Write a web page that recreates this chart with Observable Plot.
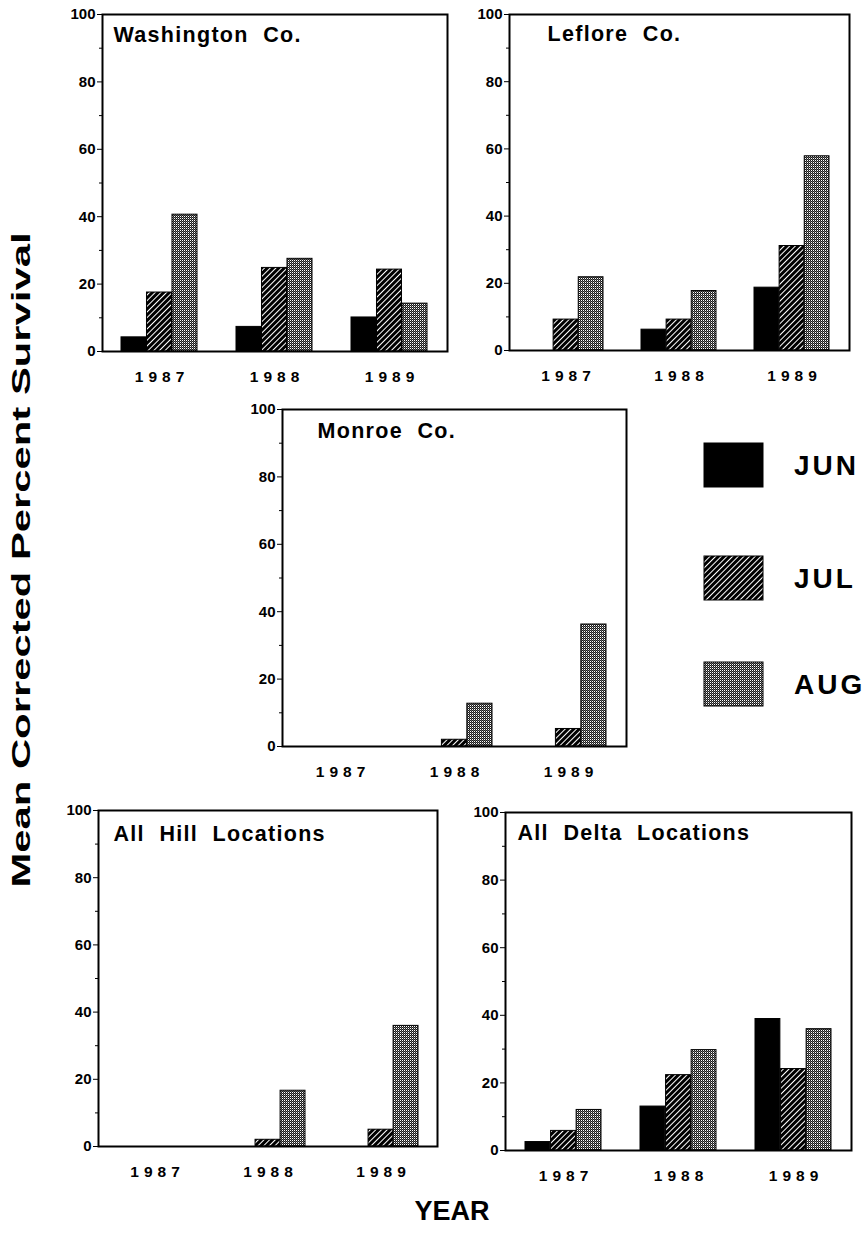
<!DOCTYPE html>
<html><head><meta charset="utf-8">
<script src="https://cdn.jsdelivr.net/npm/d3@7"></script>
<script src="https://cdn.jsdelivr.net/npm/@observablehq/plot@0.6"></script>
<style>
body{margin:0;background:#fff;}
#fig{position:relative;width:864px;height:1235px;font-family:"Liberation Sans",Arial,sans-serif;overflow:hidden;}
.panel{position:absolute;}
.panel g[aria-label="x-axis tick label"] text{letter-spacing:5px;}
.panel g[aria-label="text"] text{letter-spacing:1.3px;}
#overlay{position:absolute;left:0;top:0;pointer-events:none;}
</style></head><body>
<svg width="0" height="0" style="position:absolute">
<defs>
<pattern id="hatch" patternUnits="userSpaceOnUse" width="4" height="4" patternTransform="rotate(45)">
  <rect width="4" height="4" fill="#000"/>
  <rect x="0" y="0" width="1" height="4" fill="#fff"/>
</pattern>
<pattern id="dots" patternUnits="userSpaceOnUse" width="2" height="2" shape-rendering="crispEdges">
  <rect width="2" height="2" fill="#1a1a1a"/>
  <rect x="0" y="0" width="1" height="1" fill="#fff"/>
  <rect x="1" y="1" width="1" height="1" fill="#666"/>
</pattern>
</defs></svg>
<div id="fig"></div>
<script>
// ---- data ----
const years = ["1987", "1988", "1989"];
const months = ["JUN", "JUL", "AUG"];
const yTicks = [0, 20, 40, 60, 80, 100];
const yMinorTicks = [10, 30, 50, 70, 90];

const washingtonJUN = [4.2, 7.3, 10.1];
const washingtonJUL = [17.5, 24.8, 24.3];
const washingtonAUG = [40.6, 27.5, 14.2];

const leforeJUN = [0, 6.2, 18.7];
const leforeJUL = [9.2, 9.2, 31.1];
const leforeAUG = [21.8, 17.7, 57.8];

const monroeJUN = [0, 0, 0];
const monroeJUL = [0, 2.0, 5.2];
const monroeAUG = [0, 12.7, 36.2];

const hillJUN = [0, 0, 0];
const hillJUL = [0, 2.0, 5.0];
const hillAUG = [0, 16.6, 35.9];

const deltaJUN = [2.5, 13.0, 38.9];
const deltaJUL = [5.8, 22.3, 24.1];
const deltaAUG = [12.0, 29.7, 35.9];

const panelTitles = ["Washington  Co.", "Leflore  Co.", "Monroe  Co.", "All  Hill  Locations", "All  Delta  Locations"];
const yTitle = "Mean Corrected Percent Survival";
const xTitle = "YEAR";

// ---- layout (styles only) ----
const panels = [
  {title: panelTitles[0], series: [washingtonJUN, washingtonJUL, washingtonAUG], left: 102, top: 14, w: 345, h: 337, dx: 11, dy: 12},
  {title: panelTitles[1], series: [leforeJUN, leforeJUL, leforeAUG], left: 509, top: 14, w: 340, h: 336, dx: 38, dy: 11},
  {title: panelTitles[2], series: [monroeJUN, monroeJUL, monroeAUG], left: 282, top: 409, w: 344, h: 337, dx: 35, dy: 13},
  {title: panelTitles[3], series: [hillJUN, hillJUL, hillAUG], left: 98, top: 810, w: 339, h: 336, dx: 15, dy: 15},
  {title: panelTitles[4], series: [deltaJUN, deltaJUL, deltaAUG], left: 505, top: 812, w: 346, h: 338, dx: 12, dy: 12}
];
const fills = ["#000", "url(#hatch)", "url(#dots)"];
const ml = 42, mr = 6, mt = 6, mb = 46;
const padInner = 0.335;

const fig = document.getElementById("fig");

for (const p of panels) {
  const data = [];
  months.forEach((m, i) => years.forEach((y, j) => data.push({year: y, month: m, value: p.series[i][j]})));
  const bw = p.w / 3 * (1 - padInner);
  const chart = Plot.plot({
    width: p.w + ml + mr,
    height: p.h + mt + mb,
    marginLeft: ml, marginRight: mr, marginTop: mt, marginBottom: mb,
    x: {domain: years, type: "band", paddingInner: padInner, paddingOuter: padInner / 2, label: null},
    y: {domain: [0, 100], label: null},
    color: {domain: months, range: fills},
    style: {fontFamily: "'Liberation Sans', Arial, sans-serif", fontWeight: "bold", fontSize: "14px", color: "#000", background: "transparent", overflow: "visible"},
    marks: [
      ...months.map((m, i) => Plot.barY(data.filter(d => d.month === m), {
        x: "year", y: "value", fill: "month", stroke: "#000", strokeWidth: 1,
        insetLeft: i * bw / 3, insetRight: (2 - i) * bw / 3
      })),
      Plot.axisY(yMinorTicks, {tickSize: 3, tickFormat: () => "", label: null}),
      Plot.axisY(yTicks, {tickSize: 5, tickPadding: 2, fontSize: 15, fontWeight: "bold", label: null}),
      Plot.axisX({tickSize: 0, tickPadding: 19, dx: 2.5, fontSize: 15.5, fontWeight: "bold", label: null}),
      Plot.frame({stroke: "#000", strokeWidth: 2}),
      Plot.text([p.title.replace(/ /g, "\u00a0")], {
        frameAnchor: "top-left", dx: p.dx, dy: p.dy, textAnchor: "start", lineAnchor: "top",
        fontSize: 21.5, fontWeight: "bold", fill: "#000"
      })
    ]
  });
  chart.classList.add("panel");
  chart.style.left = (p.left - ml) + "px";
  chart.style.top = (p.top - mt) + "px";
  fig.appendChild(chart);
}

// ---- overlay: legend and axis titles ----
const ov = d3.select(fig).append("svg").attr("id", "overlay")
  .attr("width", 864).attr("height", 1235)
  .style("font-family", "'Liberation Sans', Arial, sans-serif").style("font-weight", "bold");

const legendTop = [443, 556, 662];
const lg = ov.selectAll("g.leg").data(months).join("g").attr("class", "leg")
  .attr("transform", (d, i) => `translate(704,${legendTop[i]})`);
lg.append("rect").attr("width", 59).attr("height", 44)
  .attr("fill", (d, i) => fills[i]).attr("stroke", "#000").attr("stroke-width", 1);
lg.append("text").attr("x", 90).attr("y", 32).attr("font-size", 28)
  .style("letter-spacing", "3px").text(d => d);

ov.append("text")
  .attr("transform", "translate(30,560) rotate(-90)")
  .attr("text-anchor", "middle").attr("font-size", 26)
  .attr("textLength", 655).attr("lengthAdjust", "spacingAndGlyphs")
  .text(yTitle);

ov.append("text")
  .attr("x", 452).attr("y", 1220).attr("text-anchor", "middle").attr("font-size", 27)
  .text(xTitle);
</script>
</body></html>
